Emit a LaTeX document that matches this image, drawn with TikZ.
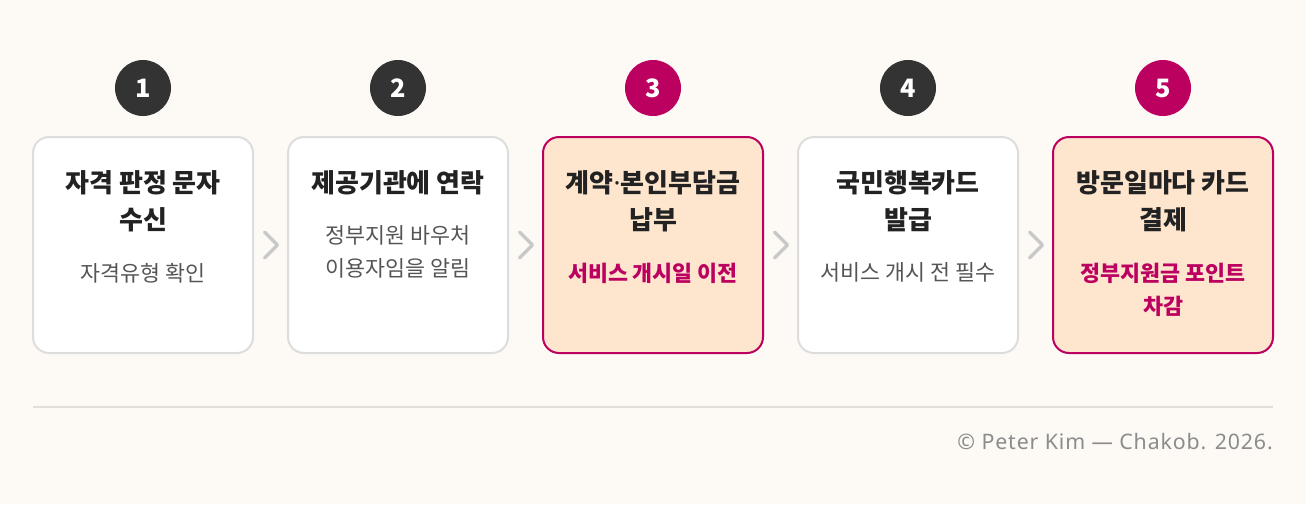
\documentclass[tikz,border=0pt]{standalone}
\usepackage{fontspec}
\setmainfont{Noto Sans CJK KR}
\newfontfamily\latinfont{Noto Sans}
\usetikzlibrary{positioning,calc}
\definecolor{pagebg}{HTML}{FDFAF6}
\definecolor{boxgray}{HTML}{DDDDDD}
\definecolor{accent}{HTML}{BC0060}
\definecolor{peach}{HTML}{FEE5CD}
\definecolor{badgedark}{HTML}{333333}
\definecolor{ink}{HTML}{222222}
\definecolor{note}{HTML}{555555}
\definecolor{chev}{HTML}{C8C8C8}
\definecolor{rulegray}{HTML}{E2DED8}
\definecolor{footgray}{HTML}{8C8C8C}

\begin{document}
\begin{tikzpicture}[x=0.75pt, y=-0.75pt,
    stepbox/.style={draw=boxgray, line width=1.5pt, fill=white, rounded corners=12pt,
        minimum width=165pt, minimum height=162pt, inner sep=0pt},
    hotbox/.style={stepbox, draw=accent, fill=peach},
    badge/.style={circle, fill=badgedark, minimum size=42pt, inner sep=0pt,
        text=white, font=\bfseries\fontsize{19}{19}\selectfont},
    hotbadge/.style={badge, fill=accent},
    steptitle/.style={anchor=north, align=center, inner sep=0pt, text=ink,
        font=\bfseries\fontsize{19.5}{27.75}\selectfont},
    stepnote/.style={align=center, inner sep=0pt, text=note,
        font=\fontsize{16.3}{24.75}\selectfont},
    hotnote/.style={stepnote, text=accent, font=\bfseries\fontsize{16.3}{24.75}\selectfont},
    chevron/.style={draw=chev, line width=2.6pt, line cap=round, line join=round}]
    % Background and margins
    \fill[pagebg] (0,0) rectangle (1306,504);
    \useasboundingbox (0,0) rectangle (1306,504);

    % Step boxes
    \node[stepbox] (b1) at (143,245) {};
    \node[stepbox] (b2) at (398,245) {};
    \node[hotbox]  (b3) at (653,245) {};
    \node[stepbox] (b4) at (908,245) {};
    \node[hotbox]  (b5) at (1163,245) {};

    % Number badges
    \node[badge]    (n1) at (143,88) {1};
    \node[badge]    (n2) at (398,88) {2};
    \node[hotbadge] (n3) at (653,88) {3};
    \node[badge]    (n4) at (908,88) {4};
    \node[hotbadge] (n5) at (1163,88) {5};

    % Titles
    \node[steptitle] (t1) at ($(b1.north)+(0,34)$) {자격 판정 문자\\수신};
    \node[steptitle] (t2) at ($(b2.north)+(0,34)$) {제공기관에 연락};
    \node[steptitle] (t3) at ($(b3.north)+(0,34)$) {계약{\latinfont\bfseries ·}본인부담금\\납부};
    \node[steptitle] (t4) at ($(b4.north)+(0,34)$) {국민행복카드\\발급};
    \node[steptitle] (t5) at ($(b5.north)+(0,34)$) {방문일마다 카드\\결제};

    % Notes
    \node[stepnote, below=23pt of t1] (s1) {자격유형 확인};
    \node[stepnote, below=23pt of t2] (s2) {정부지원 바우처\\이용자임을 알림};
    \node[hotnote,  below=23pt of t3] (s3) {서비스 개시일 이전};
    \node[stepnote, below=23pt of t4] (s4) {서비스 개시 전 필수};
    \node[hotnote,  below=23pt of t5] (s5) {정부지원금 포인트\\차감};

    % Chevrons between steps
    \coordinate (c1) at ($(b1.east)!0.5!(b2.west)$);
    \coordinate (c2) at ($(b2.east)!0.5!(b3.west)$);
    \coordinate (c3) at ($(b3.east)!0.5!(b4.west)$);
    \coordinate (c4) at ($(b4.east)!0.5!(b5.west)$);
    \draw[chevron] ($(c1)+(-6,-13)$) -- ($(c1)+(7,0)$) -- ($(c1)+(-6,13)$);
    \draw[chevron] ($(c2)+(-6,-13)$) -- ($(c2)+(7,0)$) -- ($(c2)+(-6,13)$);
    \draw[chevron] ($(c3)+(-6,-13)$) -- ($(c3)+(7,0)$) -- ($(c3)+(-6,13)$);
    \draw[chevron] ($(c4)+(-6,-13)$) -- ($(c4)+(7,0)$) -- ($(c4)+(-6,13)$);

    % Footer
    \coordinate (ruleL) at (33,407);
    \coordinate (ruleR) at (1273,407);
    \draw[rulegray, line width=1.5pt] (ruleL) -- (ruleR);
    \node[anchor=east, inner sep=0pt, text=footgray,
        font=\latinfont\addfontfeature{LetterSpace=4}\fontsize{16}{19}\selectfont]
        (credit) at (1273,442) {© Peter Kim — Chakob. 2026.};
\end{tikzpicture}
\end{document}
